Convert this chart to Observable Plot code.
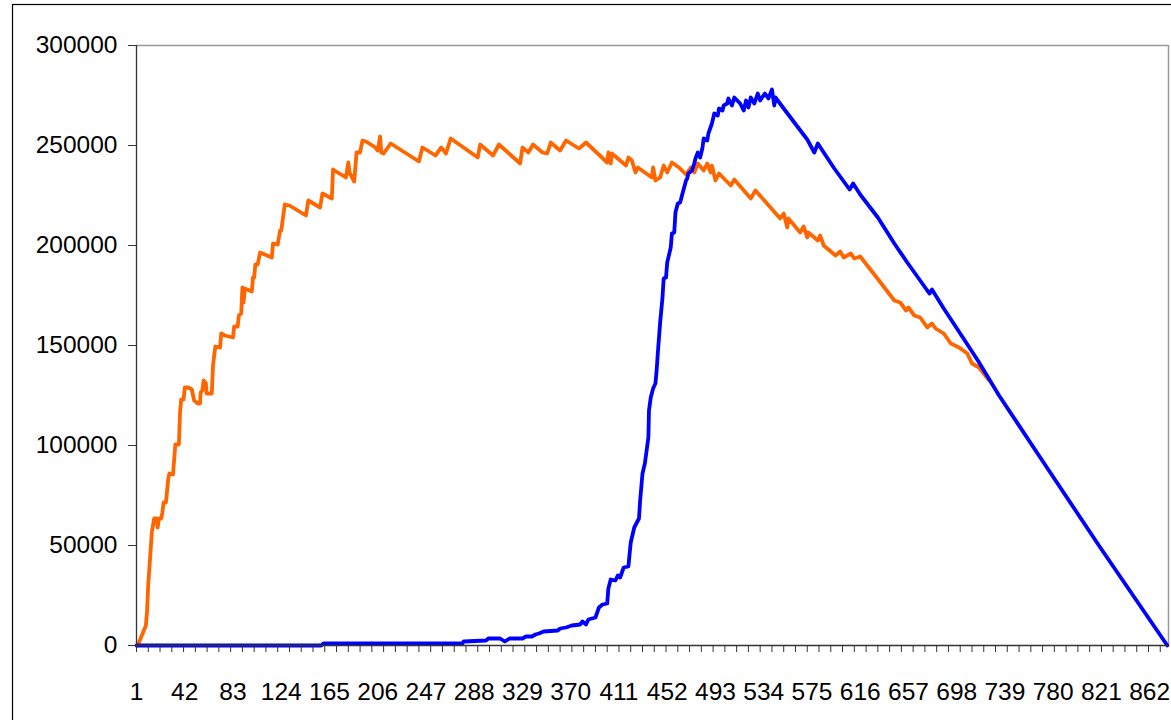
<!DOCTYPE html>
<html>
<head>
<meta charset="utf-8">
<script src="https://cdn.jsdelivr.net/npm/d3@7"></script>
<script src="https://cdn.jsdelivr.net/npm/@observablehq/plot@0.6"></script>
<style>
  html, body { margin: 0; padding: 0; background: #fff; }
  #chart { position: relative; width: 1171px; height: 720px; overflow: hidden; }
</style>
</head>
<body>
<div id="chart"></div>
<script>
// Orange series (category index, value)
const orangeCat = [2, 9, 10, 11, 13, 14, 16, 18, 19, 20, 22, 23, 24, 26, 28, 29, 32, 34, 37, 38, 39, 41, 42, 45, 48, 50, 53, 55, 55.5, 57, 58, 60, 60.5, 65, 66, 68, 72, 73, 76, 83, 84, 87, 88, 90, 91, 92, 93, 99, 100, 101, 102, 104, 106, 116, 117, 121, 123, 124, 127, 131, 145, 147, 157, 159, 167, 168, 172, 179, 181, 182, 186, 188, 191, 193, 196, 204, 206, 208, 209, 211, 217, 241, 244, 251, 255, 260, 264, 268, 291, 293, 299, 304, 309, 327, 329, 334, 338, 346, 350, 353, 361, 366, 377, 383, 401, 402, 404, 405, 417, 419, 422, 425, 427, 439, 440, 442, 446, 449, 452, 456, 462, 468, 472, 475, 478, 483, 486, 489, 490, 493, 496, 506, 509, 523, 527, 548, 551, 554, 555, 565, 568, 571, 572, 580, 582, 585, 595, 599, 602, 608, 611, 616, 630, 645, 650, 655, 657, 662, 667, 673, 677, 680, 687, 693, 700, 707, 711, 717, 725];
const orangeVal = [0, 10000, 17500, 31000, 47500, 56500, 63500, 63500, 59000, 63500, 63500, 66500, 71500, 71500, 83500, 86000, 85500, 100500, 100500, 116500, 123000, 123000, 129000, 129000, 128000, 122500, 121000, 121000, 126500, 127500, 132500, 131000, 126000, 126000, 140000, 149500, 149000, 156000, 155000, 154000, 159500, 159500, 165000, 166000, 179000, 171500, 178500, 177000, 184000, 184000, 190500, 190500, 196500, 194000, 201000, 200500, 207500, 207500, 220500, 220000, 215000, 222500, 219000, 226000, 223500, 238000, 236500, 234000, 241500, 236500, 232000, 246500, 246500, 252500, 252000, 249000, 247500, 254500, 246500, 246000, 251000, 242000, 249000, 246500, 245000, 249000, 246000, 253500, 244000, 250500, 247500, 245000, 250500, 241000, 249000, 246500, 250500, 246500, 246000, 251500, 247500, 252500, 248500, 251500, 241500, 246500, 241000, 246000, 240000, 244000, 242500, 236500, 239000, 234000, 239000, 232500, 234000, 240000, 236500, 241500, 239000, 235500, 239000, 236500, 241000, 237500, 241000, 236500, 240000, 232500, 236000, 230000, 233000, 223500, 227500, 213500, 216000, 209000, 213500, 206500, 209500, 204000, 206500, 202500, 205000, 200000, 195000, 197000, 194000, 196000, 193500, 194500, 184000, 172500, 171500, 167500, 169000, 165000, 164000, 159000, 161000, 158500, 156000, 151000, 149000, 146000, 141000, 139000, 133000];

// Blue series (category index, value)
const blueCat = [1, 158, 160, 208, 278, 279, 298, 300, 310, 314, 318, 329, 332, 337, 340, 343, 347, 359, 361, 366, 371, 378, 380, 383, 385, 391, 394, 397, 401, 402, 404, 408, 410, 412, 415, 419, 421, 424, 428, 429, 431, 433, 436, 436.5, 438, 440, 442, 443, 444, 446, 448, 449, 451, 452, 455, 456, 458, 459, 461, 463, 465, 468, 469, 470, 473, 475, 476, 478, 480, 482, 483, 486, 487, 490, 492, 495, 496, 499, 500, 503, 504, 507, 509, 514, 517, 519, 521, 523, 526, 529, 531, 535, 538, 541, 543, 544, 551, 560, 571, 577, 580, 585, 594, 607, 610, 616, 631, 645, 656, 673, 675, 677, 687, 701, 716, 734, 769, 820, 877];
const blueVal = [0, 0, 1000, 1000, 1000, 2000, 2500, 3500, 3500, 2000, 3500, 3500, 4500, 4500, 5500, 6000, 7000, 7500, 8500, 9000, 10000, 10500, 12000, 10500, 13000, 14000, 19000, 20500, 21000, 28500, 33000, 32500, 35000, 34000, 39000, 39500, 51500, 59000, 63500, 72500, 86000, 91000, 104000, 117500, 124000, 128500, 131000, 137500, 146000, 161500, 174000, 183500, 184000, 191500, 199000, 206000, 206500, 216500, 221000, 221500, 226000, 232500, 233500, 236000, 237500, 241000, 243500, 246500, 244000, 249000, 253500, 252500, 256000, 261000, 266000, 265000, 268500, 267500, 270000, 271000, 273500, 270000, 274000, 271000, 267500, 272500, 269000, 274000, 271000, 276000, 272500, 276000, 273500, 278000, 270000, 274000, 268500, 261500, 253000, 246500, 251000, 246500, 238500, 228000, 231000, 225500, 214000, 201000, 191500, 177500, 176000, 178000, 168500, 156000, 142500, 125000, 94000, 49000, 0];

const xLabels = [1, 42, 83, 124, 165, 206, 247, 288, 329, 370, 411, 452, 493, 534, 575, 616, 657, 698, 739, 780, 821, 862];
const yTicks = [0, 50000, 100000, 150000, 200000, 250000, 300000];
const xMinorTicks = d3.range(1, 878, 10);
const xDomain = [1, 878];
const yDomain = [0, 300000];

const orange = orangeCat.map((c, i) => ({c, v: orangeVal[i]}));
const blue = blueCat.map((c, i) => ({c, v: blueVal[i]}));

const chart = Plot.plot({
  width: 1171,
  height: 720,
  marginLeft: 136,
  marginRight: 3,
  marginTop: 45,
  marginBottom: 75,
  style: {fontFamily: "'Liberation Sans', Arial, sans-serif", fontSize: "24.5px", color: "#000", background: "#fff"},
  x: {domain: xDomain, label: null},
  y: {domain: yDomain, label: null},
  marks: [
    Plot.ruleY([yDomain[1]], {stroke: "#999", strokeWidth: 1.5}),
    Plot.ruleX([xDomain[1]], {stroke: "#999", strokeWidth: 1.5}),
    Plot.line(orange, {x: "c", y: "v", stroke: "#FF6600", strokeWidth: 3.8}),
    Plot.line(blue, {x: "c", y: "v", stroke: "#0000FF", strokeWidth: 3.8}),
    Plot.ruleX([xDomain[0]], {stroke: "#333", strokeWidth: 1.3}),
    Plot.ruleY([yDomain[0]], {stroke: "#333", strokeWidth: 1.3}),
    Plot.axisY({ticks: yTicks, tickSize: 8, tickPadding: 11, tickFormat: d => String(d), stroke: "#333", label: null}),
    Plot.axisX({ticks: xMinorTicks, tickSize: 7, tickFormat: () => "", stroke: "#333", label: null}),
    Plot.axisX({ticks: xLabels, tickSize: 0, tickPadding: 37, tickFormat: d => String(d), label: null})
  ]
});

d3.select(chart).append("rect")
  .attr("x", 12.5).attr("y", 4.5)
  .attr("width", 1300).attr("height", 900)
  .attr("fill", "none").attr("stroke", "#000").attr("stroke-width", 1.2);

document.getElementById("chart").appendChild(chart);
</script>
</body>
</html>
